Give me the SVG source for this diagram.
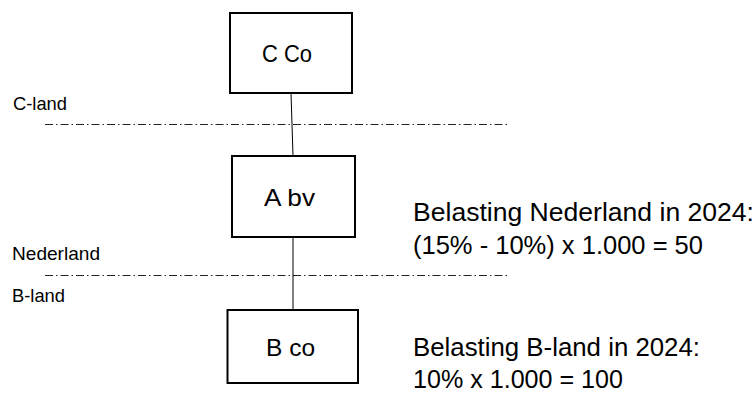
<svg xmlns="http://www.w3.org/2000/svg" width="755" height="397" viewBox="0 0 755 397">
<style>
.box{fill:#fff;stroke:#000;stroke-width:2}
.conn{stroke:#000;stroke-width:1;fill:none}
.border{stroke:#222;stroke-width:1;stroke-dasharray:8 3 1.5 3;fill:none}
.lbl{font-family:"Liberation Sans",Arial,sans-serif;font-size:19px;fill:#000}
.node{font-family:"Liberation Sans",Arial,sans-serif;font-size:24px;fill:#000;text-anchor:middle}
.note{font-family:"Liberation Sans",Arial,sans-serif;font-size:25px;fill:#000}
</style>
<rect width="755" height="397" fill="#fff"/>
<g id="borders">
<line class="border" x1="45" y1="124.5" x2="508" y2="124.5"/>
<line class="border" x1="45" y1="275.5" x2="508" y2="275.5"/>
</g>
<g id="connectors">
<line class="conn" x1="291" y1="93" x2="293" y2="156"/>
<line class="conn" x1="293" y1="237" x2="293" y2="310"/>
</g>
<g id="node-cco">
<rect class="box" x="230" y="13" width="122" height="80"/>
<text class="node" x="287" y="62" textLength="50" lengthAdjust="spacingAndGlyphs">C Co</text>
</g>
<g id="node-abv">
<rect class="box" x="232" y="156" width="123" height="81"/>
<text class="node" x="289.5" y="206" textLength="51" lengthAdjust="spacingAndGlyphs">A bv</text>
</g>
<g id="node-bco">
<rect class="box" x="227.5" y="310" width="130.5" height="73"/>
<text class="node" x="290.5" y="356" textLength="49" lengthAdjust="spacingAndGlyphs">B co</text>
</g>
<g id="labels">
<text class="lbl" x="13" y="110" textLength="54" lengthAdjust="spacingAndGlyphs">C-land</text>
<text class="lbl" x="12" y="260" textLength="88" lengthAdjust="spacingAndGlyphs">Nederland</text>
<text class="lbl" x="12" y="302" textLength="53" lengthAdjust="spacingAndGlyphs">B-land</text>
</g>
<g id="notes">
<text class="note" x="413" y="221" textLength="341" lengthAdjust="spacingAndGlyphs">Belasting Nederland in 2024:</text>
<text class="note" x="413" y="254" textLength="290" lengthAdjust="spacingAndGlyphs">(15% - 10%) x 1.000 = 50</text>
<text class="note" x="413" y="356" textLength="287" lengthAdjust="spacingAndGlyphs">Belasting B-land in 2024:</text>
<text class="note" x="413" y="388" textLength="210" lengthAdjust="spacingAndGlyphs">10% x 1.000 = 100</text>
</g>
</svg>
